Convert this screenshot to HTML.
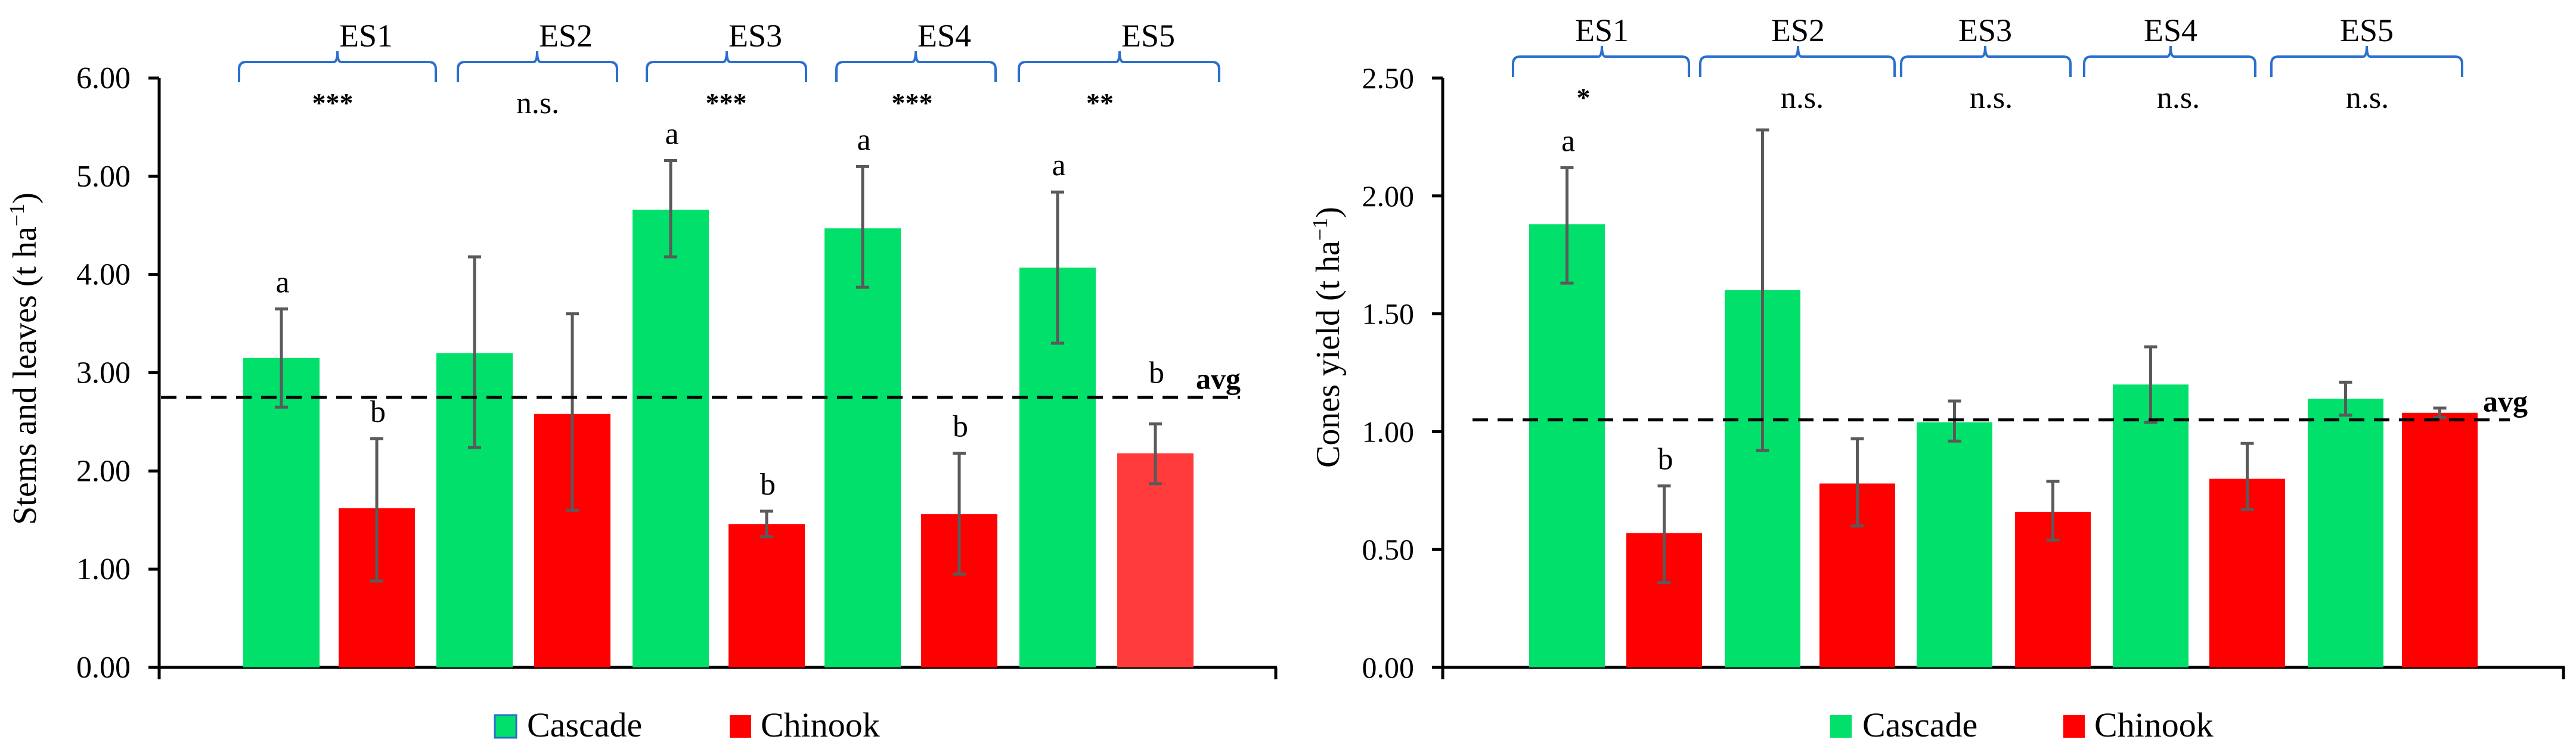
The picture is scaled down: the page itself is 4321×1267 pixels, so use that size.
<!DOCTYPE html>
<html><head><meta charset="utf-8"><style>
html,body{margin:0;padding:0;background:#fff;}
svg{display:block;font-family:"Liberation Serif","DejaVu Serif",serif;}
svg text{font-family:"Liberation Serif","DejaVu Serif",serif;fill:#000;}
</style></head><body>
<svg id="chart" width="4321" height="1267" viewBox="0 0 4321 1267" xmlns="http://www.w3.org/2000/svg" font-family="Liberation Serif, DejaVu Serif, serif"></svg>
<script>
const groups=["ES1","ES2","ES3","ES4","ES5"];
// Left chart: stems and leaves
const leftCascade=[3.15,3.20,4.66,4.47,4.07];
const leftCascadeLo=[2.65,2.24,4.18,3.87,3.30];
const leftCascadeHi=[3.65,4.18,5.16,5.10,4.84];
const leftChinook=[1.62,2.58,1.46,1.56,2.18];
const leftChinookLo=[0.88,1.60,1.33,0.95,1.87];
const leftChinookHi=[2.33,3.60,1.59,2.18,2.48];
const leftCascadeLetters=["a","","a","a","a"];
const leftChinookLetters=["b","","b","b","b"];
const leftSig=["***","n.s.","***","***","**"];
const leftTicks=["0.00","1.00","2.00","3.00","4.00","5.00","6.00"];
const leftAvg=2.75;
// Right chart: cones yield
const rightCascade=[1.88,1.60,1.04,1.20,1.14];
const rightCascadeLo=[1.63,0.92,0.96,1.04,1.07];
const rightCascadeHi=[2.12,2.28,1.13,1.36,1.21];
const rightChinook=[0.57,0.78,0.66,0.80,1.08];
const rightChinookLo=[0.36,0.60,0.54,0.67,1.06];
const rightChinookHi=[0.77,0.97,0.79,0.95,1.10];
const rightCascadeLetters=["a","","","",""];
const rightChinookLetters=["b","","","",""];
const rightSig=["*","n.s.","n.s.","n.s.","n.s."];
const rightTicks=["0.00","0.50","1.00","1.50","2.00","2.50"];
const rightAvg=1.05;

const svg=document.getElementById('chart');
const NS="http://www.w3.org/2000/svg";
const FF="Liberation Serif, DejaVu Serif, serif";
function mk(tag,attrs,parent){const e=document.createElementNS(NS,tag);for(const k in attrs)e.setAttribute(k,attrs[k]);(parent||svg).appendChild(e);return e;}
function txt(s,attrs,parent){attrs['font-family']=FF;const e=mk('text',attrs,parent);e.textContent=s;return e;}

function drawChart(cfg){
  const g=mk('g',{});
  
  
  const y0=1120,yTop=131;
  const ymax=cfg.ymax;
  const Y=v=>y0-(v/ymax)*(y0-yTop);
  const ax=mk('line',{x1:cfg.axisX,y1:yTop,x2:cfg.axisX,y2:1140,stroke:'#000','stroke-width':5},g);
  
  const bx=mk('line',{x1:cfg.axisX-18,y1:y0,x2:cfg.axisEnd,y2:y0,stroke:'#000','stroke-width':5},g);
  
  mk('line',{x1:cfg.axisEnd-2,y1:y0,x2:cfg.axisEnd-2,y2:1140,stroke:'#000','stroke-width':5},g);
  cfg.ticks.forEach(t=>{
    const v=parseFloat(t);
    mk('line',{x1:cfg.axisX-18,y1:Y(v),x2:cfg.axisX,y2:Y(v),stroke:'#000','stroke-width':5},g);
    const tl=txt(t,{x:cfg.axisX-48,y:Y(v)+17,'text-anchor':'end','font-size':cfg.tickFont},g);
    
  });
  const yt=txt(cfg.title,{x:0,y:0,'text-anchor':'middle','font-size':56,transform:`translate(${cfg.titleX},${cfg.titleY}) rotate(-90)`},g);
  const sup=document.createElementNS(NS,'tspan');sup.setAttribute('dy','-20');sup.setAttribute('font-size','36');sup.textContent='−1';yt.appendChild(sup);
  const cl=document.createElementNS(NS,'tspan');cl.setAttribute('dy','20');cl.textContent=')';yt.appendChild(cl);
  
  groups.forEach((grp,i)=>{
    const series=[
      {vals:cfg.cas,lo:cfg.casLo,hi:cfg.casHi,x:cfg.casX[i],color:'#00e06a',letters:cfg.casL,n:'cascade'},
      {vals:cfg.chi,lo:cfg.chiLo,hi:cfg.chiHi,x:cfg.chiX[i],color:(cfg.lastLight&&i===4)?'#ff3b3b':'#ff0000',letters:cfg.chiL,n:'chinook'}
    ];
    series.forEach(s=>{
      const v=s.vals[i];
      const r=mk('rect',{x:s.x,y:Y(v),width:cfg.bw,height:y0-Y(v),fill:s.color},g);
      
      
      const cx=s.x+cfg.bw/2;
      const eb=mk('g',{stroke:'#5a5a5a','stroke-width':5},g);
      
      mk('line',{x1:cx,y1:Y(s.lo[i]),x2:cx,y2:Y(s.hi[i])},eb);
      mk('line',{x1:cx-11,y1:Y(s.lo[i]),x2:cx+11,y2:Y(s.lo[i])},eb);
      mk('line',{x1:cx-11,y1:Y(s.hi[i]),x2:cx+11,y2:Y(s.hi[i])},eb);
      if(s.letters[i]){
        let ly=Y(s.hi[i])-28;
        const ay=Y(cfg.avg);
        if(ly>ay-40 && ly<ay+25) ly=ay-24;
        const l=txt(s.letters[i],{x:cx+2,y:ly,'text-anchor':'middle','font-size':52},g);
        
      }
    });
    const b=cfg.braces[i];
    const top=cfg.braceY,h=34;
    const br=mk('path',{d:`M${b[0]},${top+h} L${b[0]},${top+12} Q${b[0]},${top} ${b[0]+12},${top} L${b[2]-6},${top} Q${b[2]},${top} ${b[2]},${top-18} Q${b[2]},${top} ${b[2]+6},${top} L${b[1]-12},${top} Q${b[1]},${top} ${b[1]},${top+12} L${b[1]},${top+h}`,fill:'none',stroke:'#2a6fd0','stroke-width':4},g);
    
    const gl=txt(grp,{x:b[2]+cfg.labelOff,y:top-26,'text-anchor':'middle','font-size':54},g);
    
    const sg=cfg.sig[i];
    const st=sg.startsWith('*')?txt(sg,{x:cfg.sigX[i],y:top+84,'text-anchor':'middle','font-size':46,'font-weight':'bold'},g)
                               :txt(sg,{x:cfg.sigX[i],y:top+86,'text-anchor':'middle','font-size':52},g);
    
  });
  const al=mk('line',{x1:cfg.avgX1,y1:Y(cfg.avg),x2:cfg.avgX2,y2:Y(cfg.avg),stroke:'#000','stroke-width':5,'stroke-dasharray':'26 16'},g);
  
  const at=txt('avg',{x:cfg.avgLabelX,y:Y(cfg.avg)-14,'font-size':50,'font-weight':'bold'},g);
  
  const lg=mk('g',{},g);
  const e1=mk('g',{},lg);
  mk('rect',{x:cfg.leg[0],y:1200,width:36,height:38,fill:'#00e06a',stroke:cfg.legStroke?'#2a6fd0':'none','stroke-width':3},e1);
  txt('Cascade',{x:cfg.leg[0]+54,y:1236,'font-size':58},e1);
  const e2=mk('g',{},lg);
  mk('rect',{x:cfg.leg[1],y:1200,width:36,height:38,fill:'#ff0000'},e2);
  txt('Chinook',{x:cfg.leg[1]+52,y:1236,'font-size':58},e2);
}

drawChart({name:'stems-leaves-chart',ymax:6,axisX:267,axisEnd:2142,ticks:leftTicks,tickFont:52,
  title:'Stems and leaves (t ha',titleX:60,titleY:602,
  cas:leftCascade,casLo:leftCascadeLo,casHi:leftCascadeHi,chi:leftChinook,chiLo:leftChinookLo,chiHi:leftChinookHi,
  casL:leftCascadeLetters,chiL:leftChinookLetters,sig:leftSig,
  casX:[408,732,1061,1383,1710],chiX:[568,896,1222,1545,1874],bw:128,lastLight:true,
  braces:[[401,731,566],[768,1035,901],[1085,1352,1219],[1403,1670,1536],[1709,2045,1878]],braceY:104,labelOff:48,
  sigX:[558,902,1218,1530,1845],avg:leftAvg,avgX1:270,avgX2:2080,avgLabelX:2006,
  leg:[830,1224],legStroke:true});

drawChart({name:'cones-yield-chart',ymax:2.5,axisX:2420,axisEnd:4302,ticks:rightTicks,tickFont:50,
  title:'Cones yield  (t ha',titleX:2246,titleY:566,
  cas:rightCascade,casLo:rightCascadeLo,casHi:rightCascadeHi,chi:rightChinook,chiLo:rightChinookLo,chiHi:rightChinookHi,
  casL:rightCascadeLetters,chiL:rightChinookLetters,sig:rightSig,
  casX:[2565,2893,3215,3544,3871],chiX:[2728,3052,3380,3706,4029],bw:127,lastLight:false,
  braces:[[2538,2833,2687],[2852,3178,3016],[3189,3473,3330],[3496,3783,3641],[3810,4130,3970]],braceY:95,labelOff:0,
  sigX:[2656,3023,3340,3654,3971],avg:rightAvg,avgX1:2470,avgX2:4210,avgLabelX:4165,
  leg:[3070,3461],legStroke:false});
</script>
</body></html>
